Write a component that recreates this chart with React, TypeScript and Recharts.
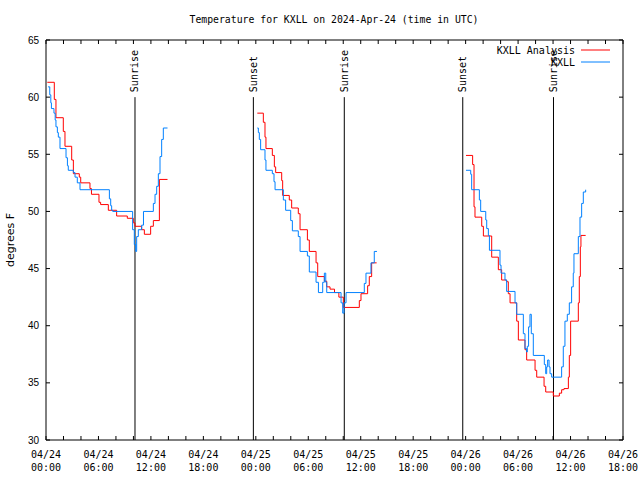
import React from 'react';
import { LineChart, Line, XAxis, YAxis, ReferenceLine, Legend } from 'recharts';

// hours since 04/24 00:00 UTC, null = gap between runs
const analysisHours = [
  0.15, 0.95, 1.14, 1.98, 2.17, 2.94, 3.13, 3.81, 3.97, 5.03, 5.2, 6.06, 6.25, 7.13, 8.08, 9.3, 9.99, 10.18, 10.94, 11.25, 11.97, 12.28, 12.97, 13.9,
  18,
  24.17, 24.86, 25.05, 25.16, 25.89, 26.12, 26.27, 26.96, 27.07, 27.83, 28.1, 28.86, 29.06, 29.9, 30.12, 30.89, 31.08, 31.84, 32.11, 32.49, 33.0, 33.5, 34.01, 35.84, 36.03, 36.79, 36.98, 37.25, 37.82,
  43,
  48.04, 48.8, 48.96, 49.07, 49.84, 50.03, 50.98, 51.74, 52.12, 52.69, 52.88, 53.08, 53.84, 54.03, 54.79, 54.98, 55.94, 56.13, 56.97, 57.16, 58.03, 58.72, 58.98, 59.25, 59.75, 59.86, 60.01, 60.89, 61.0, 61.12, 61.19, 61.73,
];
const analysisTemps = [
  61.3, 59.8, 58.2, 57.0, 55.7, 54.5, 53.3, 53.0, 52.5, 52.0, 51.5, 50.8, 50.6, 50.1, 49.6, 49.4, 49.0, 48.7, 48.4, 48.0, 48.7, 49.2, 52.8, 52.8,
  null,
  58.6, 57.8, 56.5, 55.5, 54.9, 53.9, 53.4, 52.7, 51.4, 51.0, 50.3, 49.8, 48.4, 47.5, 46.5, 45.5, 44.3, 43.9, 43.4, 43.2, 42.9, 42.5, 41.6, 42.2, 42.8, 43.5, 44.3, 45.5, 45.5,
  null,
  54.9, 54.1, 50.4, 49.5, 48.7, 47.85, 46.0, 44.9, 44.0, 43.85, 42.8, 42.0, 40.4, 38.75, 37.9, 37.0, 36.1, 35.5, 34.7, 34.2, 33.85, 34.1, 34.4, 34.5, 35.5, 37.4, 40.4, 42.0, 44.3, 46.9, 47.9, 47.9,
];

const observedHours = [
  0.24, 0.43, 0.55, 0.62, 0.91, 1.05, 1.14, 1.3, 1.41, 1.6, 2.29, 2.45, 2.55, 3.13, 3.32, 3.58, 3.89, 7.25, 7.4, 7.51, 7.63, 9.91, 10.1, 10.26, 10.37, 10.56, 10.94, 11.15, 12.28, 12.47, 12.66, 12.85, 13.04, 13.23, 13.42, 13.9,
  18,
  24.17, 24.29, 24.4, 24.55, 25.05, 25.16, 25.89, 26.08, 26.2, 27.15, 27.41, 27.99, 28.18, 28.86, 29.06, 29.9, 30.12, 30.89, 31.16, 31.65, 31.84, 32.0, 32.11, 33.75, 33.94, 34.09, 34.32, 36.41, 36.6, 37.17, 37.55, 37.86,
  43,
  48.04, 48.58, 48.69, 49.57, 49.72, 50.3, 50.41, 50.6, 50.72, 51.93, 52.05, 52.5, 52.69, 53.65, 53.84, 54.6, 54.79, 54.98, 55.05, 55.2, 55.36, 55.51, 55.74, 57.0, 57.16, 57.27, 57.38, 57.54, 57.65, 57.84, 58.98, 59.17, 59.36, 59.63, 59.86, 60.12, 60.31, 60.39, 60.89, 61.08, 61.27, 61.46, 61.73,
];
const observedTemps = [
  60.9, 60.2, 59.5, 59.0, 58.6, 58.0, 57.4, 56.9, 56.5, 55.5, 54.7, 54.0, 53.6, 53.4, 53.0, 52.5, 51.9, 51.1, 50.5, 50.1, 50.0, 48.4, 47.1, 46.5, 47.8, 48.4, 48.8, 50.0, 50.7, 51.5, 52.2, 53.3, 54.8, 56.3, 57.3, 57.3,
  null,
  57.3, 56.9, 56.3, 55.4, 54.5, 53.6, 53.3, 52.6, 51.9, 51.0, 50.1, 49.2, 48.3, 47.8, 46.5, 46.1, 44.7, 43.8, 42.9, 43.8, 44.6, 43.8, 42.9, 42.0, 41.1, 42.0, 42.9, 43.7, 44.6, 45.5, 46.5, 46.5,
  null,
  53.6, 53.25, 51.9, 51.0, 50.0, 49.25, 48.5, 47.9, 46.6, 45.3, 44.6, 44.0, 43.0, 42.0, 41.0, 39.3, 38.0, 37.7, 38.2, 39.9, 41.0, 39.3, 37.4, 36.6, 35.8, 36.4, 37.0, 36.4, 35.8, 35.5, 36.4, 38.2, 40.4, 41.0, 42.0, 43.4, 44.6, 46.3, 47.8, 49.5, 50.7, 51.7, 51.9,
];

const sunEventHours = [10.18, 23.72, 34.12, 47.67, 58.05];
const sunEventNames = ['Sunrise', 'Sunset', 'Sunrise', 'Sunset', 'Sunrise'];

const xTickHours = [0, 2, 4, 6, 8, 10, 12, 14, 16, 18, 20, 22, 24, 26, 28, 30, 32, 34, 36, 38, 40, 42, 44, 46, 48, 50, 52, 54, 56, 58, 60, 62, 64, 66];
const labelHours = [0, 6, 12, 18, 24, 30, 36, 42, 48, 54, 60, 66];
const labelDates = ['04/24', '04/24', '04/24', '04/24', '04/25', '04/25', '04/25', '04/25', '04/26', '04/26', '04/26', '04/26'];
const labelClock = ['00:00', '06:00', '12:00', '18:00', '00:00', '06:00', '12:00', '18:00', '00:00', '06:00', '12:00', '18:00'];
const yTicks = [30, 35, 40, 45, 50, 55, 60, 65];

const analysisData = analysisHours.map((t, i) => ({ t, v: analysisTemps[i] }));
const observedData = observedHours.map((t, i) => ({ t, v: observedTemps[i] }));

const MONO = '"DejaVu Sans Mono", monospace';
const SANS = '"Liberation Sans", Arial, sans-serif';
const RED = '#ff0000';
const BLUE = '#0080ff';

const XTick = (props: any) => {
  const { x, y, payload } = props;
  const i = labelHours.indexOf(payload.value);
  if (i < 0) return <g />;
  return (
    <text x={x} y={y} textAnchor="middle" fontFamily={MONO} fontSize={10} fill="#000">
      <tspan x={x} y={y + 18}>{labelDates[i]}</tspan>
      <tspan x={x} y={y + 31}>{labelClock[i]}</tspan>
    </text>
  );
};

const YTick = (props: any) => {
  const { x, y, payload } = props;
  return (
    <text x={x} y={y} dy="0.36em" textAnchor="end" fontFamily={SANS} fontSize={10} fill="#000">
      {payload.value}
    </text>
  );
};

const NoTick = () => <g />;

const sunLabel = (name: string) => (props: any) => {
  const vb = props.viewBox;
  const lx = vb.x;
  const ly = vb.y - 5;
  return (
    <text
      x={lx}
      y={ly}
      transform={`rotate(-90 ${lx} ${ly})`}
      textAnchor="start"
      dominantBaseline="central"
      fontFamily={MONO}
      fontSize={10}
      fill="#000"
    >
      {name}
    </text>
  );
};

const KeyBox = () => (
  <svg width={140} height={30} style={{ display: 'block', overflow: 'visible' }}>
    <text x={95} y={10} dy="0.35em" textAnchor="end" fontFamily={MONO} fontSize={10} fill="#000">KXLL Analysis</text>
    <line x1={101} x2={130} y1={10} y2={10} stroke={RED} strokeWidth={1} />
    <text x={95} y={22} dy="0.35em" textAnchor="end" fontFamily={MONO} fontSize={10} fill="#000">KXLL</text>
    <line x1={101} x2={130} y1={22} y2={22} stroke={BLUE} strokeWidth={1} />
  </svg>
);

export default function App() {
  return (
    <div style={{ position: 'absolute', left: 0, top: 0, width: 640, height: 480, background: '#fff' }}>
      <div
        style={{
          position: 'absolute',
          left: 0,
          top: 14,
          width: 668,
          textAlign: 'center',
          fontFamily: MONO,
          fontSize: 9.8,
          lineHeight: '12px',
          color: '#000',
        }}
      >
        Temperature for KXLL on 2024-Apr-24 (time in UTC)
      </div>
      <LineChart width={640} height={480} margin={{ top: 39, right: 16, left: 0, bottom: 0 }}>
        <XAxis
          dataKey="t"
          type="number"
          domain={[0, 66]}
          ticks={xTickHours}
          interval={0}
          allowDataOverflow
          height={40}
          tickSize={-4}
          tickMargin={4}
          tick={<XTick />}
          axisLine={{ stroke: '#000' }}
          tickLine={{ stroke: '#000' }}
        />
        <XAxis
          xAxisId="top"
          orientation="top"
          dataKey="t"
          type="number"
          domain={[0, 66]}
          ticks={xTickHours}
          interval={0}
          allowDataOverflow
          height={1}
          tickSize={-4}
          tick={<NoTick />}
          axisLine={{ stroke: '#000' }}
          tickLine={{ stroke: '#000' }}
        />
        <YAxis
          type="number"
          domain={[30, 65]}
          ticks={yTicks}
          interval={0}
          allowDataOverflow
          width={46}
          tickSize={-4}
          tickMargin={11}
          tick={<YTick />}
          axisLine={{ stroke: '#000' }}
          tickLine={{ stroke: '#000' }}
          label={() => (
            <text
              x={10}
              y={240}
              transform="rotate(-90 10 240)"
              textAnchor="middle"
              dominantBaseline="central"
              fontFamily='"DejaVu Sans", sans-serif'
              fontSize={11}
              fill="#000"
            >
              degrees F
            </text>
          )}
        />
        <YAxis
          yAxisId="right"
          orientation="right"
          type="number"
          domain={[30, 65]}
          ticks={yTicks}
          interval={0}
          allowDataOverflow
          width={1}
          tickSize={-4}
          tick={<NoTick />}
          axisLine={{ stroke: '#000' }}
          tickLine={{ stroke: '#000' }}
        />
        {sunEventHours.map((h, i) => (
          <ReferenceLine
            key={`sun-${i}`}
            segment={[{ x: h, y: 60 }, { x: h, y: 30 }]}
            stroke="#000"
            strokeWidth={1}
            label={sunLabel(sunEventNames[i])}
          />
        ))}
        <Line
          data={analysisData}
          dataKey="v"
          name="KXLL Analysis"
          type="stepAfter"
          stroke={RED}
          strokeWidth={1}
          dot={false}
          activeDot={false}
          isAnimationActive={false}
        />
        <Line
          data={observedData}
          dataKey="v"
          name="KXLL"
          type="stepAfter"
          stroke={BLUE}
          strokeWidth={1}
          dot={false}
          activeDot={false}
          isAnimationActive={false}
        />
        <Legend
          layout="vertical"
          align="center"
          verticalAlign="middle"
          content={<KeyBox />}
          wrapperStyle={{ position: 'absolute', left: 480, top: 40, width: 140, height: 30 }}
        />
      </LineChart>
    </div>
  );
}
